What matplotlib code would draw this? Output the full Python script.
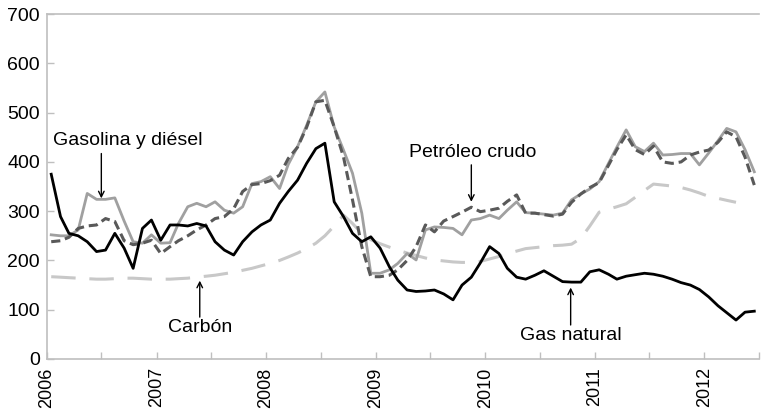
import matplotlib
matplotlib.use('Agg')
import matplotlib.pyplot as plt
import matplotlib.dates as mdates
import numpy as np
import pandas as pd

plt.rcParams['font.family'] = ['Liberation Sans', 'DejaVu Sans']

# monthly data, Jan 2006 - Jun 2012 (plotted mid-month)
months = pd.date_range('2006-01-01', periods=78, freq='MS') + pd.Timedelta(days=14)

gasolina = [252, 250, 250, 262, 336, 324, 324, 327, 280, 238, 235, 252,
            235, 236, 275, 309, 316, 309, 319, 302, 296, 309, 356, 360,
            370, 346, 395, 431, 474, 522, 542, 471, 424, 377, 296, 174,
            174, 181, 194, 214, 201, 262, 268, 267, 265, 252, 282, 285,
            292, 285, 302, 319, 297, 296, 294, 292, 296, 323, 335, 345,
            360, 397, 430, 465, 431, 421, 438, 414, 415, 417, 417, 394,
            418, 443, 468, 461, 425, 380]

petroleo = [238, 240, 247, 265, 270, 272, 285, 279, 240, 232, 235, 241,
            214, 228, 240, 250, 262, 272, 285, 289, 305, 340, 354, 356,
            362, 373, 407, 430, 470, 522, 525, 471, 410, 323, 228, 167,
            167, 170, 181, 200, 228, 272, 258, 280, 289, 298, 308, 299,
            302, 306, 320, 333, 296, 296, 293, 290, 294, 318, 335, 348,
            358, 393, 425, 455, 425, 415, 432, 400, 397, 400, 414, 420,
            424, 440, 461, 451, 410, 353]

gas_natural = [375, 289, 255, 250, 238, 218, 221, 255, 225, 184, 265, 282,
               241, 272, 272, 270, 275, 270, 238, 221, 211, 238, 258, 272,
               282, 316, 340, 363, 397, 427, 438, 319, 289, 255, 238, 248,
               225, 187, 160, 140, 137, 138, 140, 132, 120, 150, 166, 195,
               228, 214, 184, 166, 162, 170, 179, 168, 157, 156, 156, 177,
               181, 172, 162, 168, 171, 174, 172, 168, 162, 155, 150, 141,
               126, 108, 94, 79, 95, 97]

carbon = [167, 166, 165, 164, 163, 162, 162, 163, 164, 164, 163, 162,
          162, 162, 163, 164, 166, 168, 170, 173, 176, 180, 184, 189,
          194, 200, 207, 215, 224, 235, 250, 270, 292, 275, 255, 242,
          234, 227, 221, 215, 210, 205, 201, 199, 197, 196, 196, 198,
          203, 208, 214, 219, 224, 226, 228, 230, 231, 233, 245, 270,
          298, 304, 309, 315, 328, 342, 355, 353, 351, 348, 343, 337,
          330, 326, 322, 318, np.nan, np.nan]

fig = plt.figure(figsize=(7.62, 4.15), dpi=100)
ax = fig.add_axes([0.0617, 0.135, 0.9345, 0.831])

ax.plot(months, carbon, color='#c8c8c8', lw=2.2, dashes=(8, 4.5))
ax.plot(months, gasolina, color='#a0a0a0', lw=2.0)
ax.plot(months, petroleo, color='#595959', lw=2.2, dashes=(3, 1.6))
ax.plot(months, gas_natural, color='black', lw=2.0)

ax.set_ylim(0, 700)
ax.set_yticks(range(0, 701, 100))
ax.set_xlim(pd.Timestamp('2006-01-01'), pd.Timestamp('2012-07-01'))
ax.xaxis.set_major_locator(mdates.YearLocator())
ax.xaxis.set_major_formatter(mdates.DateFormatter('%Y'))
ax.xaxis.set_minor_locator(mdates.MonthLocator(bymonth=7))

for lab in ax.get_xticklabels():
    lab.set_rotation(90)

ax.tick_params(which='both', direction='in', length=5, width=1, color='#bfbfbf', pad=5)
ax.tick_params(axis='y', labelsize=14)
ax.tick_params(axis='x', labelsize=13, pad=6)

for s in ['left', 'bottom', 'top']:
    ax.spines[s].set_color('#bfbfbf')
    ax.spines[s].set_linewidth(1.2)
ax.spines['right'].set_visible(False)

arrow = dict(arrowstyle='->', color='black', lw=1, shrinkA=0, shrinkB=0)
fs = 14

ax.text(pd.Timestamp('2006-09-28'), 444, 'Gasolina y diésel', ha='center', va='center', fontsize=fs)
ax.annotate('', xy=(pd.Timestamp('2006-07-01'), 326), xytext=(pd.Timestamp('2006-07-01'), 417),
            arrowprops=arrow)

ax.text(pd.Timestamp('2009-11-20'), 420, 'Petróleo crudo', ha='center', va='center', fontsize=fs)
ax.annotate('', xy=(pd.Timestamp('2009-11-15'), 319), xytext=(pd.Timestamp('2009-11-15'), 394),
            arrowprops=arrow)

ax.text(pd.Timestamp('2007-05-25'), 64, 'Carbón', ha='center', va='center', fontsize=fs)
ax.annotate('', xy=(pd.Timestamp('2007-05-25'), 159), xytext=(pd.Timestamp('2007-05-25'), 85),
            arrowprops=arrow)

ax.text(pd.Timestamp('2010-10-12'), 47, 'Gas natural', ha='center', va='center', fontsize=fs)
ax.annotate('', xy=(pd.Timestamp('2010-10-12'), 145), xytext=(pd.Timestamp('2010-10-12'), 69),
            arrowprops=arrow)

fig.savefig('out.png', dpi=100)
